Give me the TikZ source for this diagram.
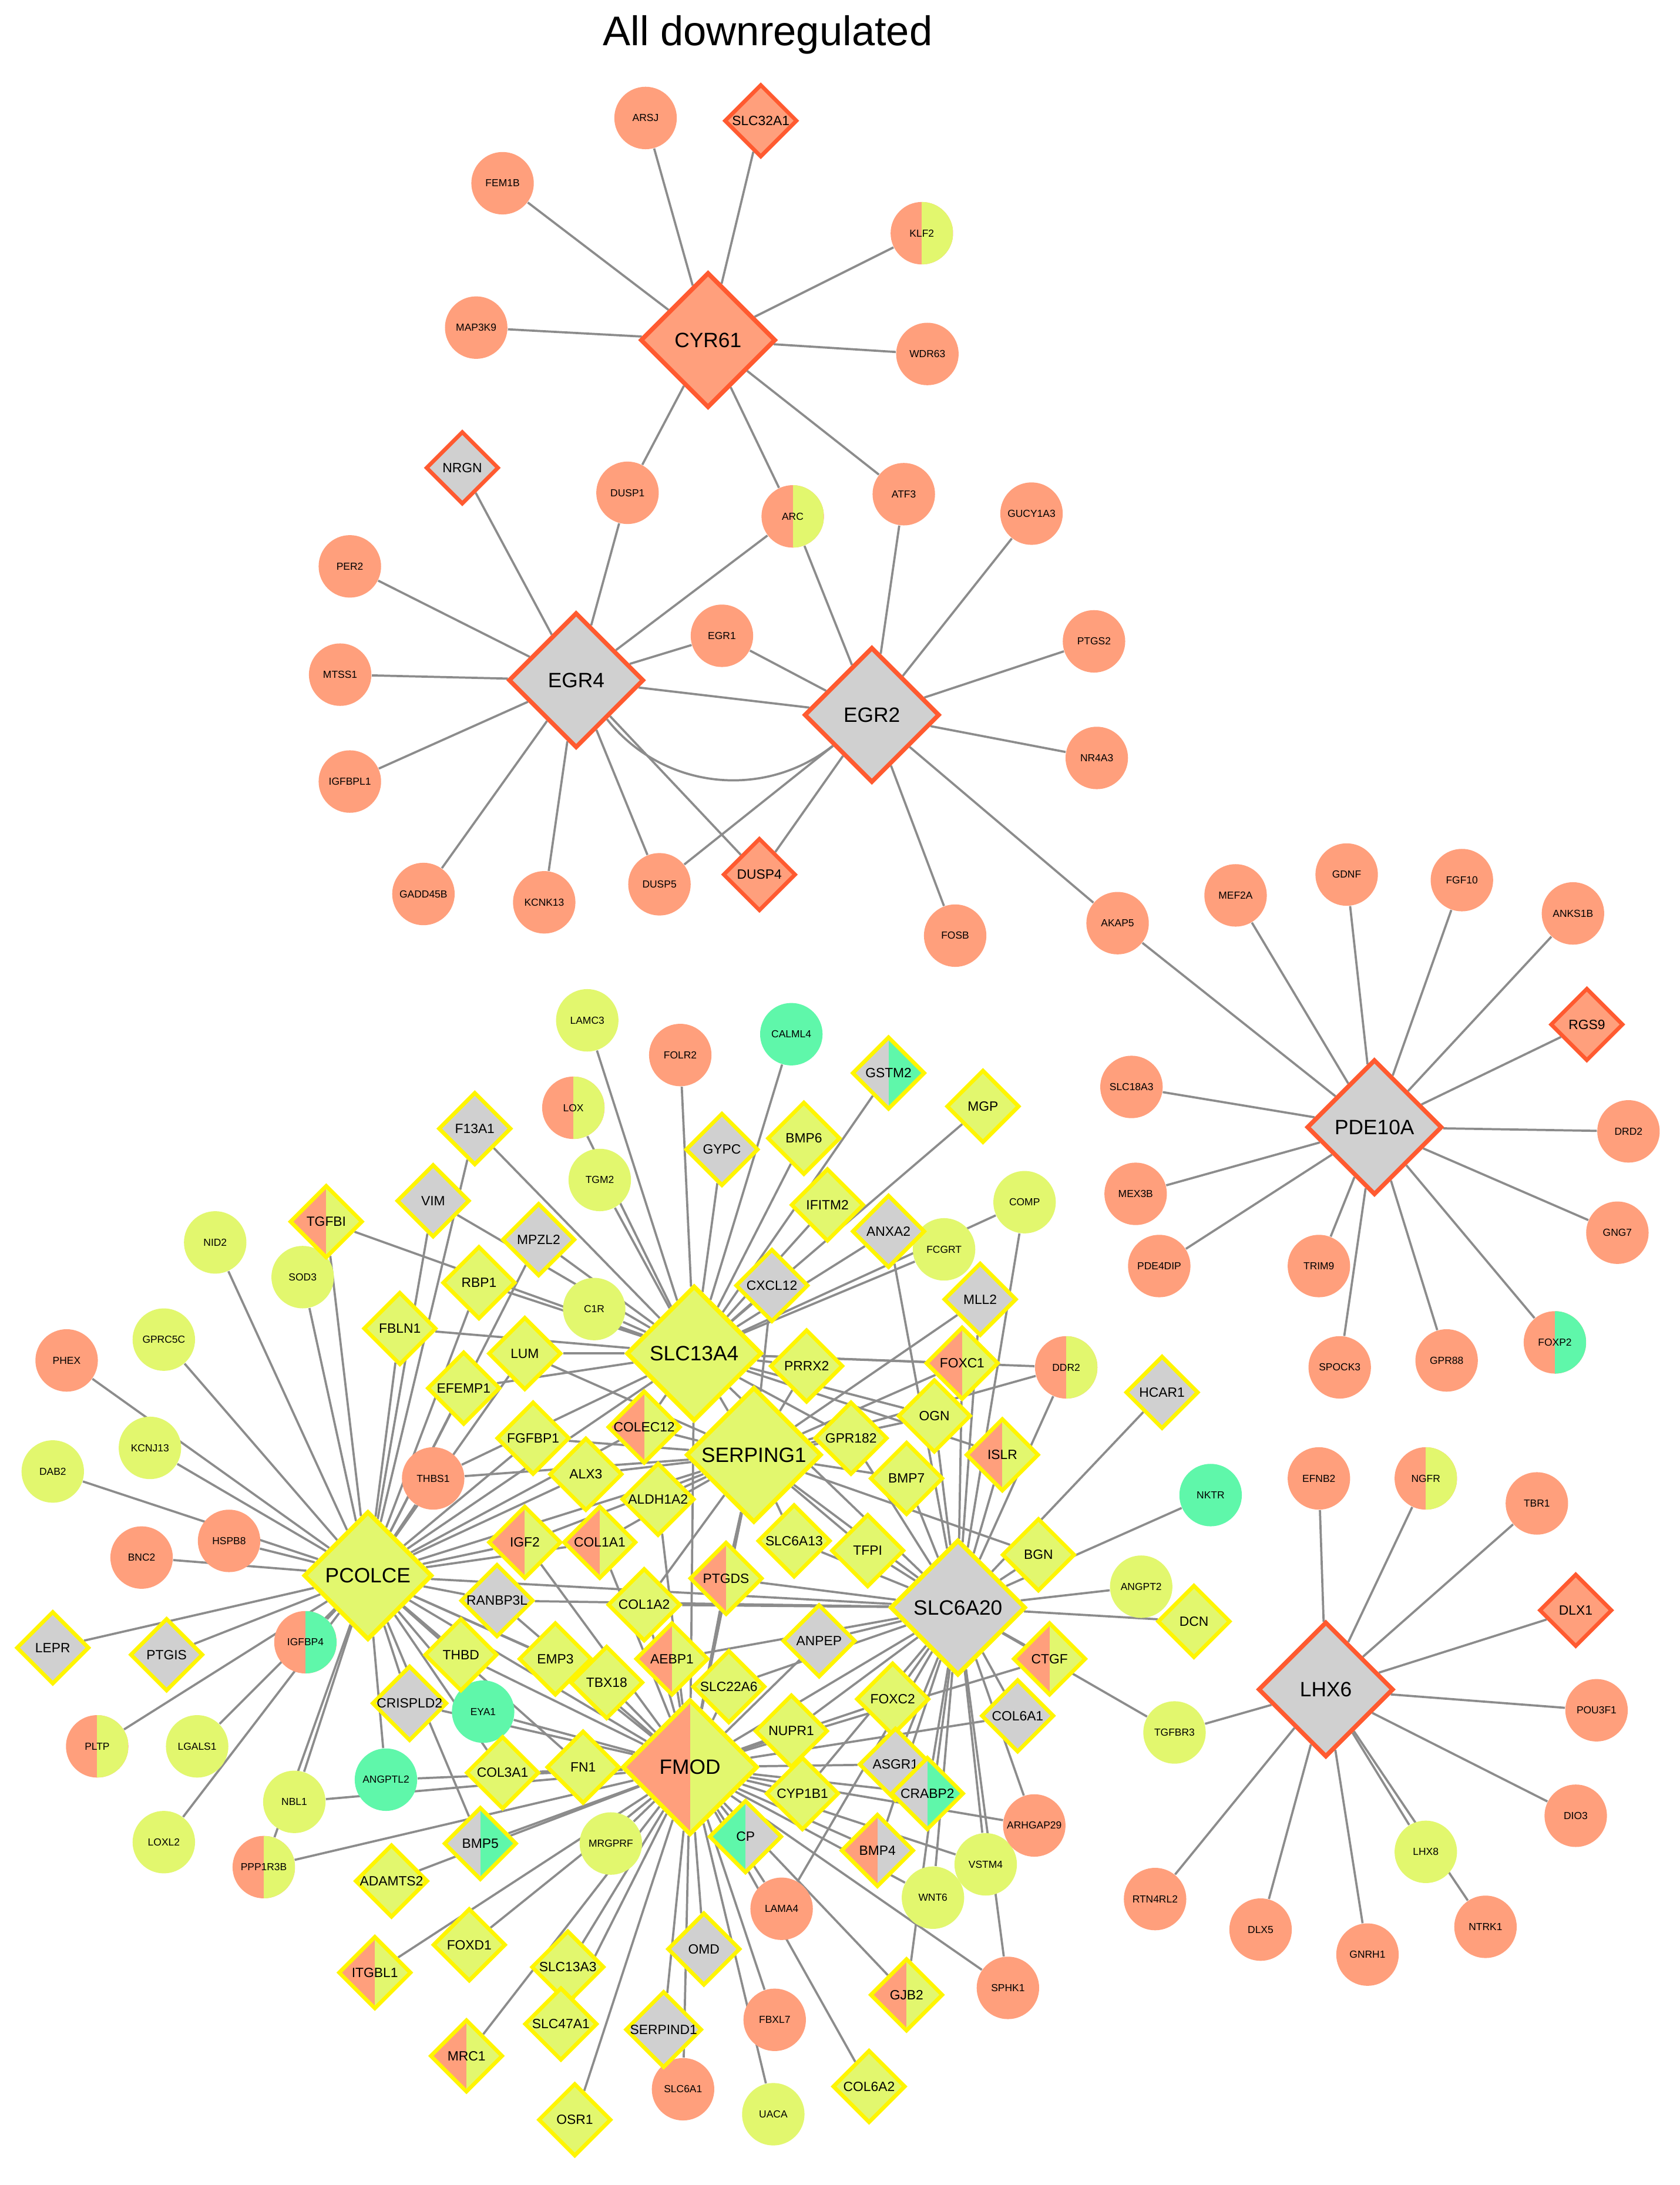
\documentclass[tikz,border=0pt]{standalone}
\usepackage{fontspec}
\setmainfont{Liberation Sans}
\usetikzlibrary{shapes.geometric}
\pgfdeclarelayer{bg}\pgfsetlayers{bg,main}
\definecolor{sal}{HTML}{FF9F7C}
\definecolor{ygr}{HTML}{E2F76E}
\definecolor{grn}{HTML}{5FF7AA}
\definecolor{gry}{HTML}{D0D0D0}
\definecolor{obr}{HTML}{FF5A30}
\definecolor{ybr}{HTML}{FFF500}
\definecolor{edg}{HTML}{8C8C8C}
\newcommand\mynode[4]{\node[#1] (#4) at (#2,#3) {#4};}
\tikzset{
 cir/.style={circle,minimum size=0.9cm,inner sep=0pt,font=\fontsize{4.2}{5}\selectfont},
 sc/.style={cir,fill=sal}, yc/.style={cir,fill=ygr}, gc/.style={cir,fill=grn},
 sp/.style 2 args={fill=#1,path picture={\fill[#2] (path picture bounding box.north) rectangle (path picture bounding box.south east);}},
 dia/.style={diamond,aspect=1,minimum size=1.05cm,inner sep=0pt,line width=1.6pt,font=\fontsize{5.5}{6}\selectfont},
 od/.style={dia,draw=obr}, yd/.style={dia,draw=ybr},
 hub/.style={diamond,aspect=1,minimum size=1.95cm,inner sep=0pt,line width=1.8pt,font=\fontsize{8.5}{9}\selectfont},
 e/.style={draw=edg,line width=0.9pt}
}
\begin{document}
\begin{tikzpicture}[x=0.02cm,y=-0.02cm]
\useasboundingbox (0,0) rectangle (1210,1574);
\node[font=\fontsize{17}{18}\selectfont] (title) at (553,25) {All downregulated};
% CYR61 cluster
\mynode{hub,draw=obr,fill=sal}{510}{245}{CYR61}
\mynode{sc}{465}{85}{ARSJ}
\mynode{od,fill=sal}{548}{87}{SLC32A1}
\mynode{sc}{362}{132}{FEM1B}
\mynode{cir,sp={sal}{ygr}}{664}{168}{KLF2}
\mynode{sc}{343}{236}{MAP3K9}
\mynode{sc}{668}{255}{WDR63}
\mynode{sc}{452}{355}{DUSP1}
\mynode{cir,sp={sal}{ygr}}{571}{372}{ARC}
\mynode{sc}{651}{356}{ATF3}
% EGR cluster
\mynode{hub,draw=obr,fill=gry}{415}{490}{EGR4}
\mynode{hub,draw=obr,fill=gry}{628}{515}{EGR2}
\mynode{od,fill=gry}{333}{337}{NRGN}
\mynode{sc}{252}{408}{PER2}
\mynode{sc}{245}{486}{MTSS1}
\mynode{sc}{252}{563}{IGFBPL1}
\mynode{sc}{305}{644}{GADD45B}
\mynode{sc}{392}{650}{KCNK13}
\mynode{sc}{475}{637}{DUSP5}
\mynode{od,fill=sal}{547}{630}{DUSP4}
\mynode{sc}{520}{458}{EGR1}
\mynode{sc}{743}{370}{GUCY1A3}
\mynode{sc}{788}{462}{PTGS2}
\mynode{sc}{790}{546}{NR4A3}
\mynode{sc}{688}{674}{FOSB}
\mynode{sc}{805}{665}{AKAP5}
% PDE10A
\mynode{hub,draw=obr,fill=gry}{990}{812}{PDE10A}
\mynode{sc}{890}{645}{MEF2A}
\mynode{sc}{970}{630}{GDNF}
\mynode{sc}{1053}{634}{FGF10}
\mynode{sc}{1133}{658}{ANKS1B}
\mynode{od,fill=sal}{1143}{738}{RGS9}
\mynode{sc}{815}{783}{SLC18A3}
\mynode{sc}{1173}{815}{DRD2}
\mynode{sc}{818}{860}{MEX3B}
\mynode{sc}{1165}{888}{GNG7}
\mynode{sc}{835}{912}{PDE4DIP}
\mynode{sc}{950}{912}{TRIM9}
\mynode{sc}{965}{985}{SPOCK3}
\mynode{sc}{1042}{980}{GPR88}
\mynode{cir,sp={sal}{grn}}{1120}{967}{FOXP2}
% LHX6
\mynode{hub,draw=obr,fill=gry}{955}{1217}{LHX6}
\mynode{sc}{950}{1065}{EFNB2}
\mynode{cir,sp={sal}{ygr}}{1027}{1065}{NGFR}
\mynode{sc}{1107}{1083}{TBR1}
\mynode{od,fill=sal}{1135}{1160}{DLX1}
\mynode{sc}{1150}{1232}{POU3F1}
\mynode{sc}{1135}{1308}{DIO3}
\mynode{sc}{1070}{1388}{NTRK1}
\mynode{sc}{985}{1408}{GNRH1}
\mynode{yc}{1027}{1334}{LHX8}
\mynode{sc}{908}{1390}{DLX5}
\mynode{sc}{832}{1368}{RTN4RL2}
\mynode{yc}{846}{1248}{TGFBR3}
% big cluster hubs
\mynode{hub,draw=ybr,fill=ygr}{500}{975}{SLC13A4}
\mynode{hub,draw=ybr,fill=ygr}{543}{1048}{SERPING1}
\mynode{hub,draw=ybr,fill=ygr,minimum size=1.85cm}{265}{1135}{PCOLCE}
\mynode{hub,draw=ybr,fill=gry}{690}{1158}{SLC6A20}
\mynode{hub,draw=ybr,sp={sal}{ygr}}{497}{1273}{FMOD}
% circles
\mynode{yc}{423}{735}{LAMC3}
\mynode{sc}{490}{760}{FOLR2}
\mynode{gc}{570}{745}{CALML4}
\mynode{cir,sp={sal}{ygr}}{413}{798}{LOX}
\mynode{yc}{432}{850}{TGM2}
\mynode{yc}{738}{866}{COMP}
\mynode{yc}{680}{900}{FCGRT}
\mynode{yc}{155}{895}{NID2}
\mynode{yc}{218}{920}{SOD3}
\mynode{yc}{428}{943}{C1R}
\mynode{sc}{48}{980}{PHEX}
\mynode{yc}{118}{965}{GPRC5C}
\mynode{yc}{108}{1043}{KCNJ13}
\mynode{yc}{38}{1060}{DAB2}
\mynode{sc}{312}{1065}{THBS1}
\mynode{cir,sp={sal}{ygr}}{768}{985}{DDR2}
\mynode{gc}{872}{1077}{NKTR}
\mynode{sc}{165}{1110}{HSPB8}
\mynode{sc}{102}{1122}{BNC2}
\mynode{cir,sp={sal}{grn}}{220}{1183}{IGFBP4}
\mynode{yc}{822}{1143}{ANGPT2}
\mynode{cir,sp={sal}{ygr}}{70}{1258}{PLTP}
\mynode{yc}{142}{1258}{LGALS1}
\mynode{gc}{348}{1233}{EYA1}
\mynode{gc}{278}{1282}{ANGPTL2}
\mynode{yc}{212}{1298}{NBL1}
\mynode{yc}{118}{1327}{LOXL2}
\mynode{cir,sp={sal}{ygr}}{190}{1345}{PPP1R3B}
\mynode{yc}{440}{1328}{MRGPRF}
\mynode{yc}{710}{1343}{VSTM4}
\mynode{yc}{672}{1367}{WNT6}
\mynode{sc}{745}{1315}{ARHGAP29}
\mynode{sc}{563}{1375}{LAMA4}
\mynode{sc}{726}{1432}{SPHK1}
\mynode{sc}{558}{1455}{FBXL7}
\mynode{sc}{492}{1505}{SLC6A1}
\mynode{yc}{557}{1523}{UACA}
% diamonds
\mynode{yd,sp={gry}{grn}}{640}{773}{GSTM2}
\mynode{yd,fill=ygr}{708}{797}{MGP}
\mynode{yd,fill=gry}{342}{813}{F13A1}
\mynode{yd,fill=gry}{520}{828}{GYPC}
\mynode{yd,fill=ygr}{579}{820}{BMP6}
\mynode{yd,fill=gry}{312}{865}{VIM}
\mynode{yd,sp={sal}{ygr}}{235}{880}{TGFBI}
\mynode{yd,fill=gry}{388}{893}{MPZL2}
\mynode{yd,fill=ygr}{596}{868}{IFITM2}
\mynode{yd,fill=gry}{640}{887}{ANXA2}
\mynode{yd,fill=ygr}{345}{924}{RBP1}
\mynode{yd,fill=gry}{556}{926}{CXCL12}
\mynode{yd,fill=gry}{706}{936}{MLL2}
\mynode{yd,fill=ygr}{288}{957}{FBLN1}
\mynode{yd,fill=ygr}{378}{975}{LUM}
\mynode{yd,fill=ygr}{581}{984}{PRRX2}
\mynode{yd,sp={sal}{ygr}}{693}{982}{FOXC1}
\mynode{yd,fill=gry}{837}{1003}{HCAR1}
\mynode{yd,fill=ygr}{334}{1000}{EFEMP1}
\mynode{yd,fill=ygr}{384}{1036}{FGFBP1}
\mynode{yd,sp={sal}{ygr}}{464}{1028}{COLEC12}
\mynode{yd,fill=ygr}{613}{1036}{GPR182}
\mynode{yd,fill=ygr}{673}{1020}{OGN}
\mynode{yd,sp={sal}{ygr}}{722}{1048}{ISLR}
\mynode{yd,fill=ygr}{422}{1062}{ALX3}
\mynode{yd,fill=ygr}{474}{1080}{ALDH1A2}
\mynode{yd,fill=ygr}{653}{1065}{BMP7}
\mynode{yd,sp={sal}{ygr}}{378}{1111}{IGF2}
\mynode{yd,sp={sal}{ygr}}{432}{1111}{COL1A1}
\mynode{yd,fill=ygr}{572}{1110}{SLC6A13}
\mynode{yd,fill=ygr}{625}{1117}{TFPI}
\mynode{yd,fill=ygr}{748}{1120}{BGN}
\mynode{yd,fill=gry}{358}{1153}{RANBP3L}
\mynode{yd,fill=ygr}{464}{1156}{COL1A2}
\mynode{yd,sp={sal}{ygr}}{523}{1137}{PTGDS}
\mynode{yd,fill=gry}{590}{1182}{ANPEP}
\mynode{yd,fill=ygr}{860}{1168}{DCN}
\mynode{yd,fill=ygr}{332}{1192}{THBD}
\mynode{yd,fill=ygr}{400}{1195}{EMP3}
\mynode{yd,sp={sal}{ygr}}{484}{1195}{AEBP1}
\mynode{yd,sp={sal}{ygr}}{756}{1195}{CTGF}
\mynode{yd,fill=ygr}{437}{1212}{TBX18}
\mynode{yd,fill=ygr}{525}{1215}{SLC22A6}
\mynode{yd,fill=ygr}{643}{1224}{FOXC2}
\mynode{yd,fill=gry}{733}{1236}{COL6A1}
\mynode{yd,fill=gry}{295}{1227}{CRISPLD2}
\mynode{yd,fill=gry}{38}{1187}{LEPR}
\mynode{yd,fill=gry}{120}{1192}{PTGIS}
\mynode{yd,fill=ygr}{570}{1247}{NUPR1}
\mynode{yd,fill=gry}{645}{1271}{ASGR1}
\mynode{yd,sp={gry}{grn}}{668}{1292}{CRABP2}
\mynode{yd,fill=ygr}{362}{1277}{COL3A1}
\mynode{yd,fill=ygr}{420}{1273}{FN1}
\mynode{yd,fill=ygr}{578}{1292}{CYP1B1}
\mynode{yd,sp={grn}{gry}}{537}{1323}{CP}
\mynode{yd,sp={gry}{grn}}{346}{1328}{BMP5}
\mynode{yd,sp={sal}{gry}}{632}{1333}{BMP4}
\mynode{yd,fill=ygr}{282}{1355}{ADAMTS2}
\mynode{yd,fill=ygr}{338}{1401}{FOXD1}
\mynode{yd,fill=gry}{507}{1404}{OMD}
\mynode{yd,fill=ygr}{409}{1417}{SLC13A3}
\mynode{yd,sp={sal}{ygr}}{270}{1421}{ITGBL1}
\mynode{yd,sp={sal}{ygr}}{653}{1437}{GJB2}
\mynode{yd,fill=gry}{478}{1462}{SERPIND1}
\mynode{yd,fill=ygr}{404}{1458}{SLC47A1}
\mynode{yd,sp={sal}{ygr}}{336}{1481}{MRC1}
\mynode{yd,fill=ygr}{626}{1503}{COL6A2}
\mynode{yd,fill=ygr}{414}{1527}{OSR1}
\begin{pgfonlayer}{bg}
\foreach \t in {ARSJ,SLC32A1,FEM1B,KLF2,MAP3K9,WDR63,DUSP1,ARC,ATF3} \draw[e] (CYR61) -- (\t);
\foreach \t in {NRGN,PER2,MTSS1,IGFBPL1,GADD45B,KCNK13,DUSP5,DUSP4,EGR1,ARC,DUSP1,EGR2} \draw[e] (EGR4) -- (\t);
\foreach \t in {EGR1,ARC,ATF3,GUCY1A3,PTGS2,NR4A3,FOSB,AKAP5,DUSP5,DUSP4} \draw[e] (EGR2) -- (\t);
\draw[e] (EGR4) to[bend right=45] (EGR2);
\foreach \t in {AKAP5,MEF2A,GDNF,FGF10,ANKS1B,RGS9,SLC18A3,DRD2,MEX3B,GNG7,PDE4DIP,TRIM9,SPOCK3,GPR88,FOXP2} \draw[e] (PDE10A) -- (\t);
\foreach \t in {EFNB2,NGFR,TBR1,DLX1,POU3F1,DIO3,NTRK1,GNRH1,LHX8,DLX5,RTN4RL2,TGFBR3} \draw[e] (LHX6) -- (\t);
\foreach \t in {NID2,TGFBI,SOD3,GPRC5C,PHEX,KCNJ13,DAB2,HSPB8,BNC2,LEPR,PTGIS,IGFBP4,PLTP,LGALS1,NBL1,LOXL2,PPP1R3B,F13A1,VIM,FBLN1,EFEMP1,RBP1,LUM,THBS1,FGFBP1,IGF2,RANBP3L,THBD,CRISPLD2,ANGPTL2,COL3A1,BMP5,EYA1,EMP3,SLC13A4,SERPING1,SLC6A20,FMOD,COL1A1,ALX3,TBX18,FN1,MPZL2,COLEC12} \draw[e] (PCOLCE) -- (\t);
\foreach \t in {LAMC3,FOLR2,CALML4,GSTM2,LOX,F13A1,GYPC,BMP6,TGM2,MGP,VIM,MPZL2,IFITM2,ANXA2,C1R,RBP1,CXCL12,LUM,PRRX2,FOXC1,FCGRT,COMP,DDR2,FBLN1,EFEMP1,COLEC12,GPR182,OGN,ISLR,SLC6A20,FMOD,SERPING1,TGFBI,THBS1} \draw[e] (SLC13A4) -- (\t);
\foreach \t in {COLEC12,ALX3,ALDH1A2,GPR182,BMP7,OGN,PRRX2,FOXC1,SLC6A13,TFPI,IGF2,COL1A1,PTGDS,COL1A2,SLC6A20,FMOD,FGFBP1,LUM,CXCL12,MLL2,DDR2,BGN,THBS1} \draw[e] (SERPING1) -- (\t);
\foreach \t in {HCAR1,NKTR,ANGPT2,DCN,BGN,CTGF,COL6A1,TGFBR3,ISLR,OGN,BMP7,TFPI,ANPEP,FOXC2,ASGR1,CRABP2,ARHGAP29,VSTM4,WNT6,SPHK1,GJB2,BMP4,CYP1B1,SLC22A6,NUPR1,AEBP1,PTGDS,COL1A2,RANBP3L,FMOD,DDR2,MLL2,FOXC1,SLC6A13,LAMA4,COMP,GPR182,ANXA2} \draw[e] (SLC6A20) -- (\t);
\foreach \t in {COL3A1,FN1,EYA1,ANGPTL2,BMP5,ADAMTS2,FOXD1,ITGBL1,MRC1,OSR1,SLC47A1,SLC13A3,SERPIND1,SLC6A1,UACA,FBXL7,OMD,COL6A2,GJB2,LAMA4,SPHK1,CP,BMP4,CYP1B1,CRABP2,ASGR1,NUPR1,FOXC2,ARHGAP29,VSTM4,WNT6,MRGPRF,PPP1R3B,CRISPLD2,THBD,EMP3,TBX18,AEBP1,SLC22A6,ANPEP,COL1A2,COL1A1,IGF2,RANBP3L,ALDH1A2,PTGDS,COL6A1,CTGF,NBL1} \draw[e] (FMOD) -- (\t);
\end{pgfonlayer}
\end{tikzpicture}
\end{document}
